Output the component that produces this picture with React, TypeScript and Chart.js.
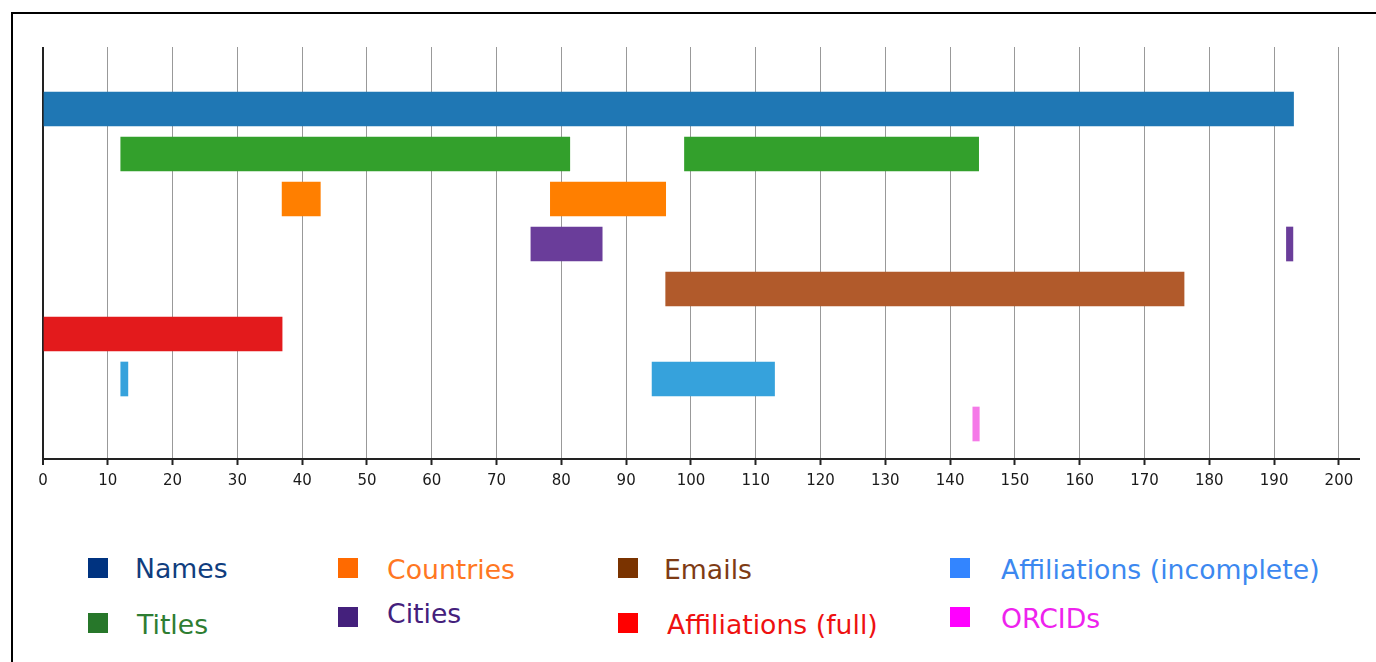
import React, { useEffect, useRef } from "react";
import { Chart, registerables } from "chart.js";

Chart.register(...registerables);

// Row order (top to bottom)
const rowNames = ["Names", "Titles", "Countries", "Cities", "Emails", "Affiliations (full)", "Affiliations (incomplete)", "ORCIDs"];

// Spans [start, end] per category
const namesSpans = [[0, 193]];
const titlesSpans = [[12, 81.3], [99, 144.4]];
const countriesSpans = [[36.9, 42.8], [78.3, 96.1]];
const citiesSpans = [[75.3, 86.3], [191.9, 192.9]];
const emailsSpans = [[96.1, 176.1]];
const affFullSpans = [[0, 36.9]];
const affIncSpans = [[12, 13.1], [94, 112.9]];
const orcidSpans = [[143.5, 144.5]];

const allSpans = [namesSpans, titlesSpans, countriesSpans, citiesSpans, emailsSpans, affFullSpans, affIncSpans, orcidSpans];
const barColors = ["#1f77b4", "#33a02c", "#ff7f00", "#6a3d9a", "#b15a2b", "#e31a1c", "#36a2dc", "#f57ae8"];

const xTickValues = [0, 10, 20, 30, 40, 50, 60, 70, 80, 90, 100, 110, 120, 130, 140, 150, 160, 170, 180, 190, 200];

// Legend
const legendLabels = ["Names", "Titles", "Countries", "Cities", "Emails", "Affiliations (full)", "Affiliations (incomplete)", "ORCIDs"];
const legendSquareColors = ["#003380", "#27772a", "#ff6a00", "#44207c", "#7a3300", "#ff0000", "#3385ff", "#ff00ff"];
const legendTextColors = ["#103d7e", "#2e7d32", "#ff7722", "#44207c", "#7e3b14", "#ee1111", "#3c88f0", "#ee22ee"];
// [squareLeft, squareTop, textLeft, textBaseline]
const legendPos = [
  [88, 558, 135, 578],
  [88, 613, 137, 634],
  [338, 558, 387, 579],
  [338, 607, 387, 623],
  [618, 558, 664, 579],
  [618, 613, 667, 634],
  [950, 558, 1001, 579],
  [950, 607, 1001, 628],
];

export default function App() {
  const canvasRef = useRef<HTMLCanvasElement | null>(null);

  useEffect(() => {
    if (!canvasRef.current) return;
    const datasets = rowNames.map((name, i) => ({
      label: name,
      data: allSpans[i].map((s) => ({ x: [s[0], s[1]], y: i })),
      backgroundColor: barColors[i],
      borderWidth: 0,
      barThickness: 34,
      grouped: false,
    }));
    const chart = new Chart(canvasRef.current, {
      type: "bar",
      data: { datasets: datasets as any },
      options: {
        indexAxis: "y",
        animation: false,
        responsive: false,
        events: [],
        layout: { padding: { left: 23, right: 11, top: 17, bottom: 13 } },
        plugins: { legend: { display: false }, tooltip: { enabled: false } },
        scales: {
          x: {
            type: "linear",
            min: 0,
            max: 203.1,
            afterBuildTicks: (scale: any) => {
              scale.ticks = xTickValues.map((v) => ({ value: v }));
            },
            grid: {
              color: (ctx: any) => (ctx.tick && ctx.tick.value === 0 ? "#222" : "#999"),
              lineWidth: (ctx: any) => (ctx.tick && ctx.tick.value === 0 ? 2 : 1),
              drawTicks: true,
              tickLength: 6,
              tickColor: "#222",
              tickWidth: 2,
            } as any,
            border: { display: true, color: "#222", width: 2 },
            ticks: {
              color: "#1a1a1a",
              padding: 7,
              maxRotation: 0,
              autoSkip: false,
              font: { family: "'DejaVu Sans'", size: 15 },
            },
          },
          y: {
            type: "linear",
            display: false,
            reverse: true,
            offset: false,
            min: -1.378,
            max: 7.778,
          },
        },
      },
    });
    return () => chart.destroy();
  }, []);

  return (
    <div style={{ position: "absolute", left: 0, top: 0, width: 1376, height: 662, overflow: "hidden", background: "#fff" }}>
      <div
        style={{
          position: "absolute",
          left: 11,
          top: 12,
          width: 1376,
          height: 700,
          borderTop: "2px solid #000",
          borderLeft: "2px solid #000",
          boxSizing: "border-box",
        }}
      />
      <canvas
        ref={canvasRef}
        width={1350}
        height={480}
        style={{ position: "absolute", left: 20, top: 30, width: 1350, height: 480 }}
      />
      {legendLabels.map((label, i) => {
        const [sx, sy, tx, tb] = legendPos[i];
        return (
          <React.Fragment key={label}>
            <div
              style={{
                position: "absolute",
                left: sx,
                top: sy,
                width: 20,
                height: 20,
                background: legendSquareColors[i],
              }}
            />
            <div
              style={{
                position: "absolute",
                left: tx,
                top: tb - 22,
                fontFamily: "'DejaVu Sans'",
                fontSize: 26.7,
                lineHeight: "26px",
                whiteSpace: "nowrap",
                color: legendTextColors[i],
              }}
            >
              {label}
            </div>
          </React.Fragment>
        );
      })}
    </div>
  );
}
